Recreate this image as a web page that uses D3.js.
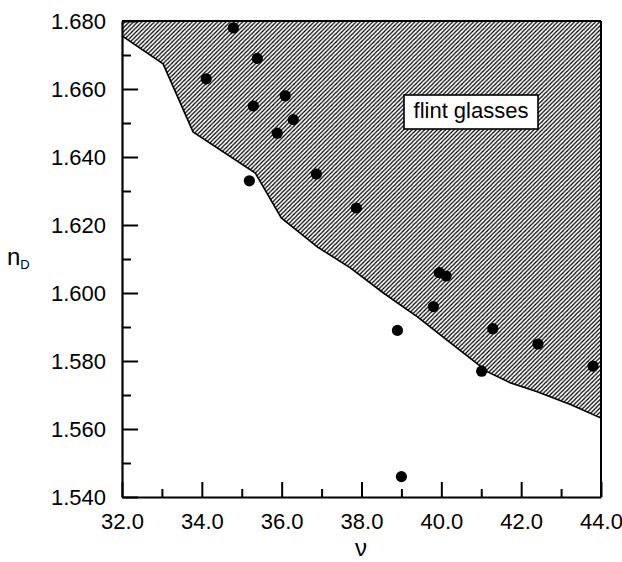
<!DOCTYPE html>
<html>
	<head>
		<meta charset="utf-8">
		<style type="text/css">
			body { margin: 0; background: #fff; }
			text { font-family: "Liberation Sans", Arial, sans-serif; }
		</style>
		<title>Flint glasses</title>
	</head>
	<body>
		<div id="chart"></div>

		<script src="https://cdn.jsdelivr.net/npm/d3@7"></script>
		<script>

		// glasses: Abbe number (nu) and refractive index (nD)
		var glassNu = [34.79, 34.11, 35.39, 35.29, 36.09, 36.29, 35.89, 35.19, 36.87, 37.87,
		               39.95, 40.12, 39.80, 38.90, 41.29, 42.42, 43.80, 41.01, 39.00];
		var glassNd = [1.678, 1.663, 1.669, 1.655, 1.658, 1.651, 1.647, 1.633, 1.635, 1.625,
		               1.606, 1.605, 1.596, 1.589, 1.5895, 1.585, 1.5785, 1.577, 1.546];

		// lower edge of the flint glass region
		var boundaryNu = [32.0, 33.03, 33.78, 35.34, 35.99, 36.90, 37.72, 38.55, 39.41, 40.23,
		                  41.16, 41.74, 42.42, 43.25, 44.0];
		var boundaryNd = [1.6756, 1.6674, 1.6474, 1.6353, 1.6221, 1.6135, 1.6074, 1.6000, 1.5929, 1.5853,
		                  1.5768, 1.5735, 1.5709, 1.5671, 1.5632];

		var xMajor = [32, 34, 36, 38, 40, 42, 44];
		var xMinor = [33, 35, 37, 39, 41, 43];
		var yMajor = [1.54, 1.56, 1.58, 1.60, 1.62, 1.64, 1.66, 1.68];
		var yMinor = [1.55, 1.57, 1.59, 1.61, 1.63, 1.65, 1.67];

		var regionLabel = "flint glasses";

		var width = 622;
		var height = 562;

		var x = d3.scaleLinear().domain([32, 44]).range([122, 601]);
		var y = d3.scaleLinear().domain([1.54, 1.68]).range([497, 21]);

		var svg = d3.select("#chart").append("svg")
								.attr("width", width)
								.attr("height", height);

		// hatch pattern
		var pat = svg.append("defs").append("pattern")
								.attr("id", "hatch")
								.attr("patternUnits", "userSpaceOnUse")
								.attr("width", 4.2)
								.attr("height", 4.2);
		pat.append("rect").attr("width", 4.2).attr("height", 4.2).attr("fill", "#fff");
		pat.append("path")
				.attr("d", "M-1,1.1 l2.1,-2.1 M0,4.2 l4.2,-4.2 M3.1,5.3 l2.1,-2.1")
				.attr("stroke", "#000")
				.attr("stroke-width", 1.2);

		// region: lower boundary then closed along the top
		var pts = boundaryNu.map(function(d, i) { return [x(d), y(boundaryNd[i])]; });
		var region = pts.concat([[x(44), y(1.68)], [x(32), y(1.68)]]);

		svg.append("path")
				.attr("d", d3.line()(region) + "Z")
				.attr("fill", "url(#hatch)");

		svg.append("path")
				.attr("d", d3.line()(pts))
				.attr("fill", "none")
				.attr("stroke", "#000")
				.attr("stroke-width", 1.6);

		// frame top and right
		svg.append("line")
				.attr("x1", x(32)).attr("x2", x(44))
				.attr("y1", y(1.68)).attr("y2", y(1.68))
				.attr("stroke", "#000").attr("stroke-width", 2.2);
		svg.append("line")
				.attr("x1", x(44)).attr("x2", x(44))
				.attr("y1", y(1.68)).attr("y2", y(1.54))
				.attr("stroke", "#000").attr("stroke-width", 2);

		// axes
		function styleAxis(g, labels) {
			g.select(".domain").attr("stroke-width", 2.2);
			g.selectAll(".tick line").attr("stroke-width", 2);
			g.selectAll(".tick text")
				.attr("font-family", "Liberation Sans, Arial, sans-serif")
				.attr("font-size", 22)
				.attr("fill", "#000");
			if (!labels) g.select(".domain").remove();
		}

		svg.append("g")
				.attr("transform", "translate(0," + y(1.54) + ")")
				.call(d3.axisBottom(x).tickValues(xMinor).tickFormat("").tickSize(-8))
				.call(styleAxis, false);
		svg.append("g")
				.attr("transform", "translate(0," + y(1.54) + ")")
				.call(d3.axisBottom(x).tickValues(xMajor).tickFormat(d3.format(".1f"))
					.tickSizeInner(-15).tickSizeOuter(0).tickPadding(16))
				.call(styleAxis, true);

		svg.append("g")
				.attr("transform", "translate(" + x(32) + ",0)")
				.call(d3.axisLeft(y).tickValues(yMinor).tickFormat("").tickSize(-9))
				.call(styleAxis, false);
		svg.append("g")
				.attr("transform", "translate(" + x(32) + ",0)")
				.call(d3.axisLeft(y).tickValues(yMajor).tickFormat(d3.format(".3f"))
					.tickSizeInner(-16).tickSizeOuter(0).tickPadding(16))
				.call(styleAxis, true);

		// glass points
		svg.selectAll("circle.glass")
				.data(glassNu)
				.enter()
					.append("circle")
					.attr("class", "glass")
					.attr("cx", function(d) { return x(d); })
					.attr("cy", function(d, i) { return y(glassNd[i]); })
					.attr("r", 5.6)
					.attr("fill", "#000");

		// label box
		svg.append("rect")
				.attr("x", 404).attr("y", 95)
				.attr("width", 134).attr("height", 34)
				.attr("fill", "#fff")
				.attr("stroke", "#000")
				.attr("stroke-width", 1.6);
		svg.append("text")
				.attr("x", 471).attr("y", 118)
				.attr("text-anchor", "middle")
				.attr("font-size", 22)
				.text(regionLabel);

		// axis titles
		svg.append("text")
				.attr("x", 361).attr("y", 556)
				.attr("text-anchor", "middle")
				.attr("font-family", "Liberation Serif, serif")
				.attr("font-size", 24)
				.text("ν");

		var yt = svg.append("text").attr("x", 7).attr("y", 265).attr("font-size", 24);
		yt.append("tspan").text("n");
		yt.append("tspan").attr("font-size", 13).attr("dy", 4).text("D");

		</script>
	</body>
</html>
